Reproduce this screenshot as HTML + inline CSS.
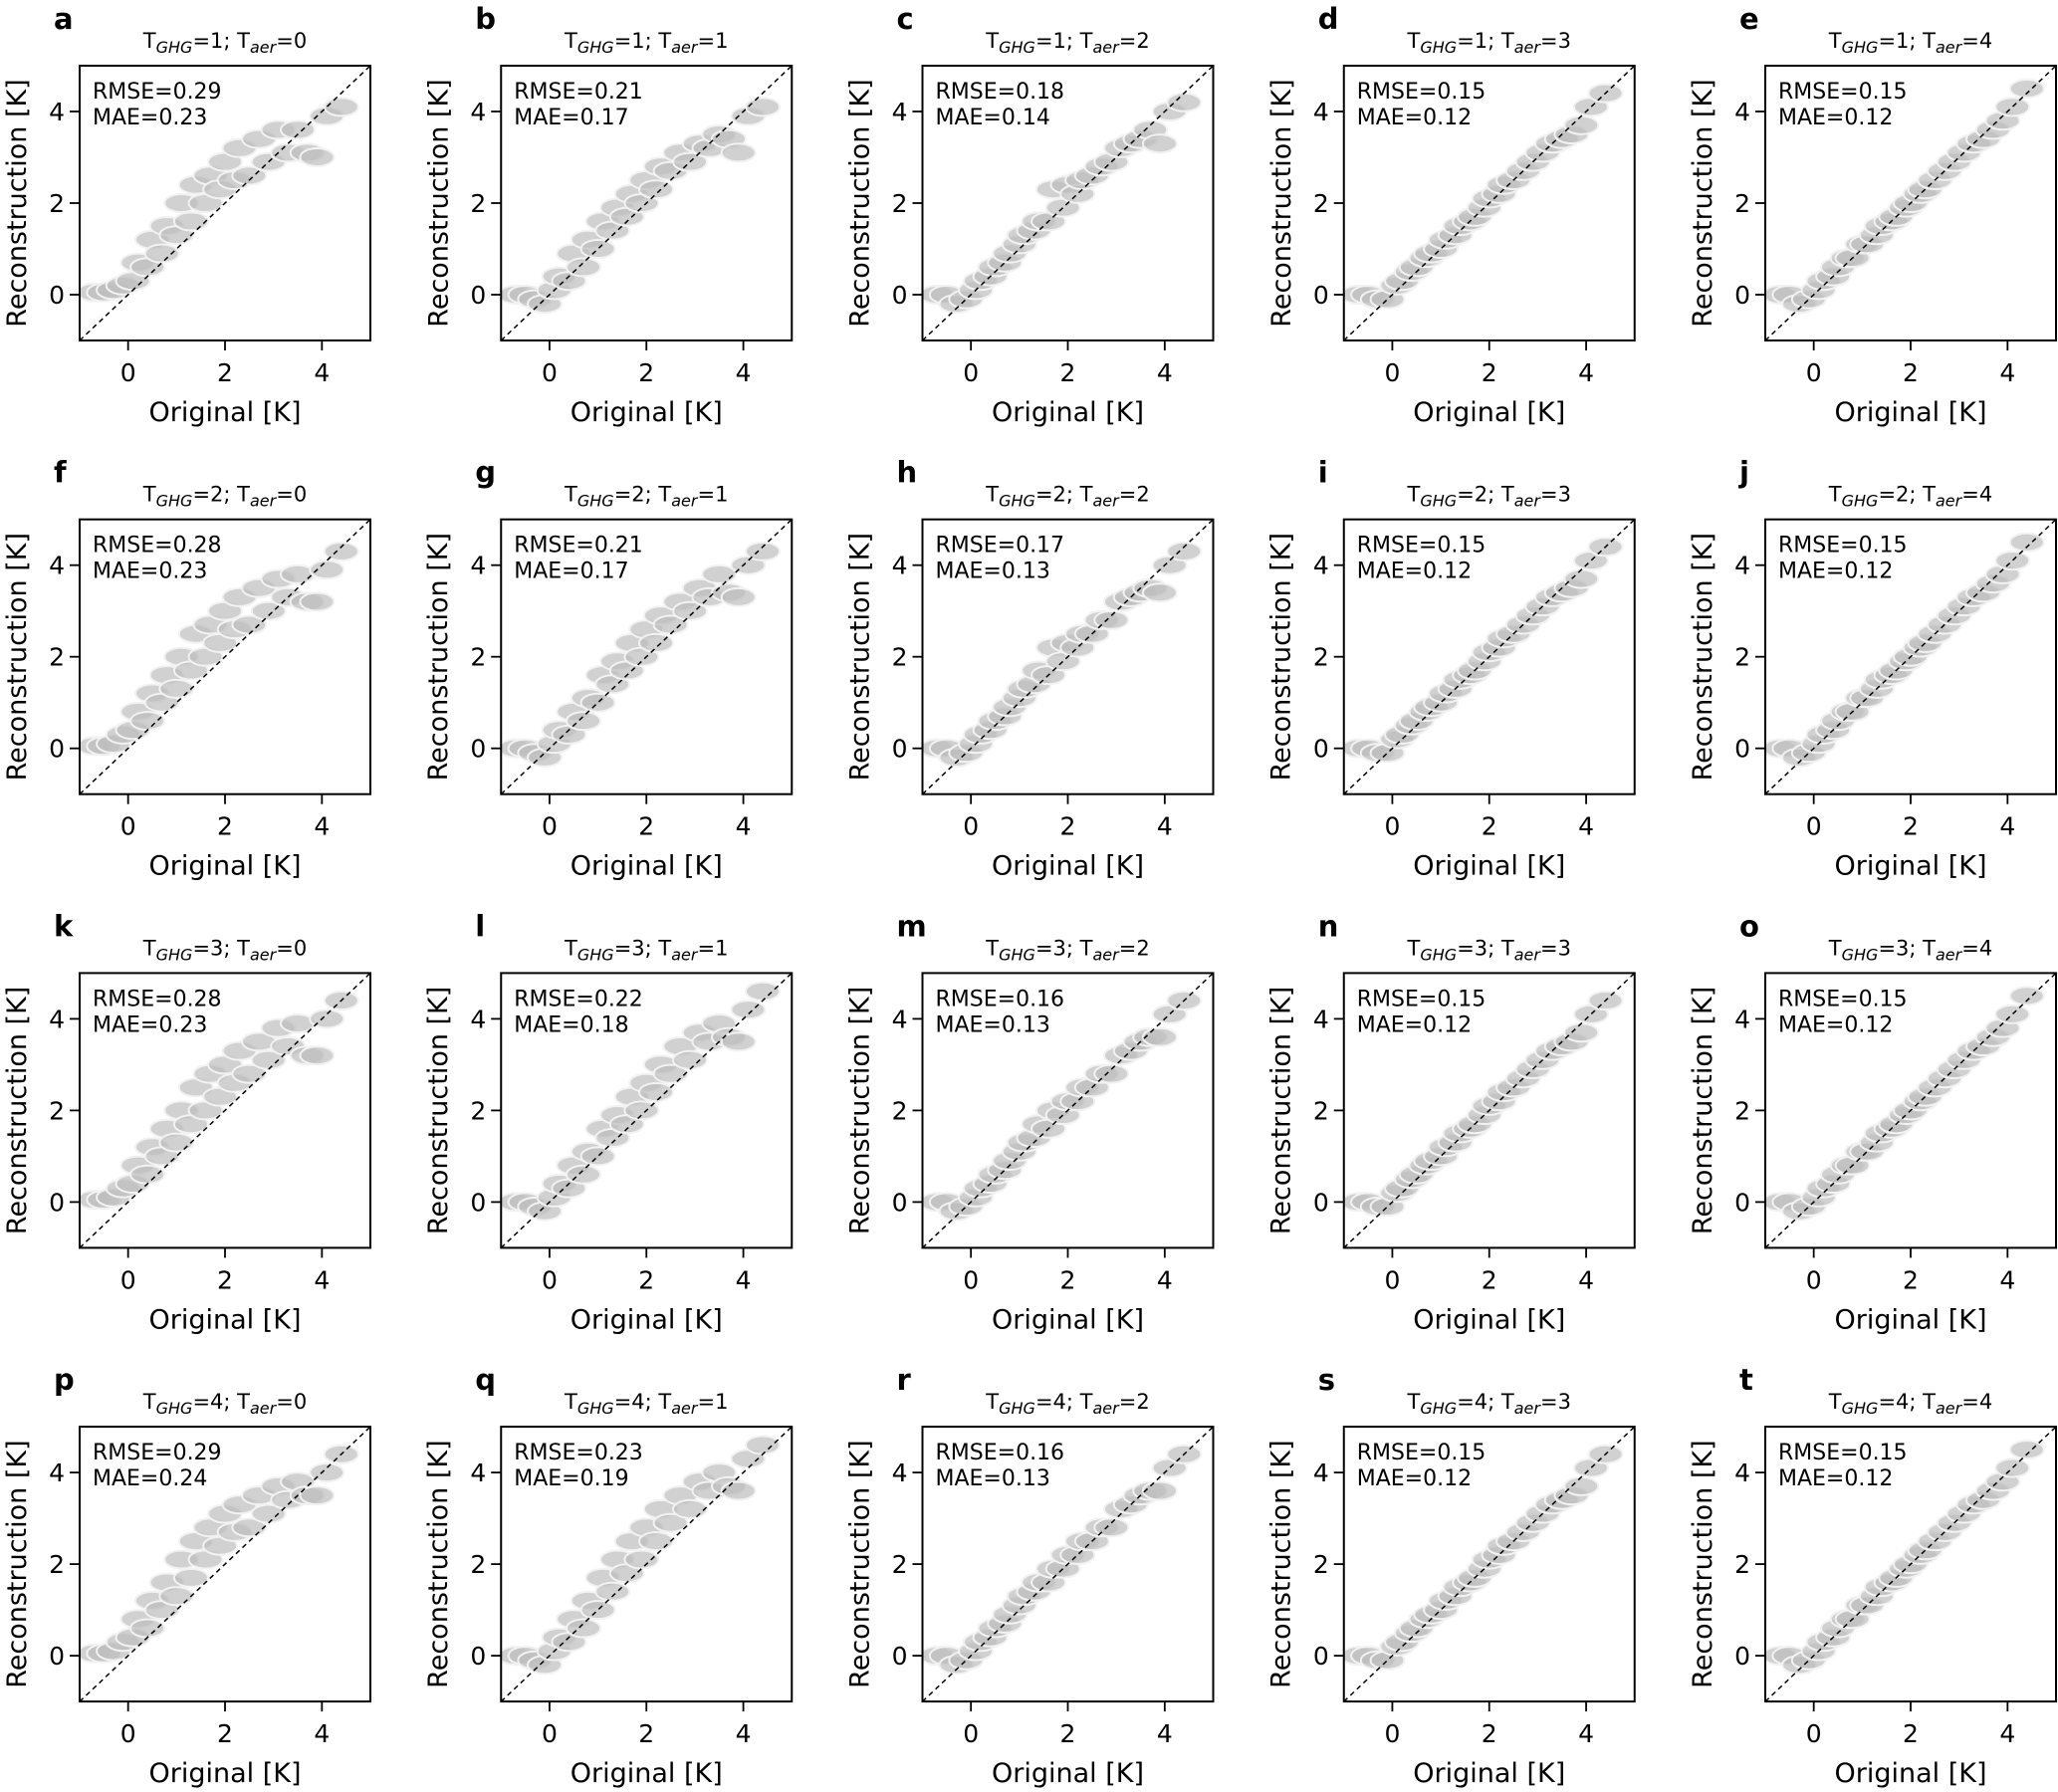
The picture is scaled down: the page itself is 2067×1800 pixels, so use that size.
<!DOCTYPE html>
<html><head><meta charset="utf-8"><style>
html,body{margin:0;padding:0;background:#fff;}
svg{display:block;font-family:"DejaVu Sans","Liberation Sans",sans-serif;}
</style></head><body>
<svg id="fig" width="2067" height="1800" viewBox="0 0 2067 1800" xmlns="http://www.w3.org/2000/svg"></svg>
<script>
const letters = ["a","b","c","d","e","f","g","h","i","j","k","l","m","n","o","p","q","r","s","t"];
const ghgLevels = [1,2,3,4];
const aerLevels = [0,1,2,3,4];
const rmseValues = ["0.29","0.21","0.18","0.15","0.15","0.28","0.21","0.17","0.15","0.15","0.28","0.22","0.16","0.15","0.15","0.29","0.23","0.16","0.15","0.15"];
const maeValues = ["0.23","0.17","0.14","0.12","0.12","0.23","0.17","0.13","0.12","0.12","0.23","0.18","0.13","0.12","0.12","0.24","0.19","0.13","0.12","0.12"];
const xTicks = [0,2,4];
const yTicks = [0,2,4];
const original = [-0.7,-0.5,-0.3,-0.1,0.1,0.2,0.4,0.5,0.7,0.8,1.0,1.1,1.3,1.4,1.6,1.7,1.9,2.0,2.2,2.3,2.5,2.7,2.9,3.1,3.3,3.5,3.7,3.9,4.1,4.4];
const recon = [
[0.05,0.05,0.1,0.2,0.3,0.7,0.6,1.2,0.9,1.5,1.3,2.0,1.6,2.4,2.0,2.6,2.3,2.9,2.5,3.2,2.6,3.4,2.9,3.6,3.1,3.6,3.1,3.0,3.9,4.1],
[0.0,0.0,-0.1,-0.2,0.1,0.4,0.3,0.9,0.6,1.2,1.0,1.6,1.4,1.9,1.7,2.2,2.0,2.5,2.3,2.8,2.7,3.1,2.9,3.3,3.2,3.5,3.4,3.1,3.9,4.1],
[0.0,0.0,-0.2,-0.1,0.1,0.3,0.4,0.6,0.7,0.9,1.1,1.3,1.4,1.6,1.6,2.3,1.9,2.4,2.2,2.5,2.6,2.8,2.9,3.2,3.3,3.4,3.6,3.3,4.0,4.2],
[0.0,0.0,-0.1,-0.1,0.2,0.3,0.5,0.6,0.8,0.9,1.0,1.2,1.3,1.5,1.6,1.7,1.9,2.1,2.2,2.4,2.5,2.7,2.9,3.1,3.3,3.4,3.5,3.7,4.1,4.4],
[0.0,0.0,-0.2,-0.1,0.1,0.3,0.4,0.6,0.8,0.8,1.1,1.1,1.3,1.5,1.6,1.7,1.9,2.0,2.2,2.3,2.5,2.7,2.9,3.1,3.3,3.4,3.6,3.8,4.1,4.5],
[0.05,0.05,0.1,0.3,0.4,0.8,0.6,1.2,1.0,1.6,1.3,2.0,1.7,2.5,2.0,2.7,2.3,3.0,2.6,3.3,2.7,3.5,3.0,3.7,3.3,3.8,3.2,3.2,3.9,4.3],
[0.0,0.0,-0.1,-0.2,0.1,0.4,0.3,0.8,0.6,1.1,1.0,1.6,1.4,1.9,1.7,2.3,2.0,2.6,2.3,2.9,2.7,3.2,3.0,3.5,3.3,3.8,3.4,3.3,4.0,4.3],
[0.0,0.0,-0.2,-0.1,0.1,0.3,0.4,0.6,0.7,0.9,1.1,1.3,1.4,1.7,1.6,2.2,1.9,2.3,2.2,2.5,2.5,2.8,2.8,3.2,3.3,3.4,3.5,3.4,4.0,4.3],
[0.0,0.0,-0.1,-0.1,0.2,0.3,0.5,0.6,0.8,0.9,1.0,1.2,1.3,1.5,1.6,1.7,1.9,2.1,2.2,2.4,2.5,2.7,2.9,3.1,3.3,3.4,3.5,3.7,4.1,4.4],
[0.0,0.0,-0.2,-0.1,0.1,0.3,0.4,0.6,0.8,0.8,1.1,1.1,1.3,1.5,1.6,1.7,1.9,2.0,2.2,2.3,2.5,2.7,2.9,3.1,3.3,3.4,3.6,3.8,4.1,4.5],
[0.05,0.05,0.1,0.3,0.4,0.8,0.6,1.2,1.0,1.6,1.3,2.0,1.7,2.5,2.0,2.8,2.3,3.0,2.6,3.3,2.8,3.5,3.1,3.8,3.4,3.9,3.2,3.2,4.0,4.4],
[0.0,0.0,-0.1,-0.2,0.1,0.4,0.3,0.8,0.6,1.1,1.0,1.6,1.4,1.9,1.7,2.3,2.0,2.6,2.4,3.0,2.8,3.4,3.1,3.7,3.5,3.9,3.6,3.5,4.2,4.6],
[0.0,0.0,-0.2,-0.1,0.1,0.3,0.4,0.6,0.7,0.9,1.1,1.3,1.4,1.7,1.6,2.0,1.9,2.2,2.2,2.5,2.5,2.8,2.8,3.2,3.3,3.5,3.6,3.6,4.1,4.4],
[0.0,0.0,-0.1,-0.1,0.2,0.3,0.5,0.6,0.8,0.9,1.0,1.2,1.3,1.5,1.6,1.7,1.9,2.1,2.2,2.4,2.5,2.7,2.9,3.1,3.3,3.4,3.5,3.7,4.1,4.4],
[0.0,0.0,-0.2,-0.1,0.1,0.3,0.4,0.6,0.8,0.8,1.1,1.1,1.3,1.5,1.6,1.7,1.9,2.0,2.2,2.3,2.5,2.7,2.9,3.1,3.3,3.4,3.6,3.8,4.1,4.5],
[0.05,0.05,0.1,0.3,0.4,0.8,0.6,1.2,1.0,1.6,1.3,2.1,1.7,2.5,2.1,2.8,2.4,3.1,2.7,3.3,2.8,3.5,3.1,3.7,3.4,3.8,3.5,3.5,4.0,4.4],
[0.0,0.0,-0.1,-0.2,0.1,0.4,0.3,0.8,0.6,1.2,1.0,1.7,1.4,2.1,1.8,2.5,2.1,2.8,2.5,3.2,2.9,3.5,3.2,3.8,3.6,4.0,3.7,3.6,4.3,4.6],
[0.0,0.0,-0.2,-0.1,0.1,0.3,0.4,0.6,0.7,0.9,1.1,1.3,1.4,1.6,1.6,1.9,1.9,2.2,2.2,2.5,2.5,2.8,2.8,3.2,3.3,3.5,3.6,3.6,4.1,4.4],
[0.0,0.0,-0.1,-0.1,0.2,0.3,0.5,0.6,0.8,0.9,1.0,1.2,1.3,1.5,1.6,1.7,1.9,2.1,2.2,2.4,2.5,2.7,2.9,3.1,3.3,3.4,3.5,3.7,4.1,4.4],
[0.0,0.0,-0.2,-0.1,0.1,0.3,0.4,0.6,0.8,0.8,1.1,1.1,1.3,1.5,1.6,1.7,1.9,2.0,2.2,2.3,2.5,2.7,2.9,3.1,3.3,3.4,3.6,3.8,4.1,4.5]
];

const NS = "http://www.w3.org/2000/svg";
const svg = document.getElementById("fig");
const W = 292, H = 276, X0 = 80, Y0 = 66, DX = 423.25, DY = 455.7;
const DMIN = -1, DMAX = 5;
function mk(tag, attrs, parent, text){
  const e = document.createElementNS(NS, tag);
  for (const k in attrs) e.setAttribute(k, attrs[k]);
  if (text !== undefined) e.textContent = text;
  parent.appendChild(e);
  return e;
}
for (let i = 0; i < 20; i++){
  const r = Math.floor(i/5), c = i%5;
  const ox = X0 + c*DX, oy = Y0 + r*DY;
  const sx = v => ox + (v-DMIN)/(DMAX-DMIN)*W;
  const sy = v => oy + H - (v-DMIN)/(DMAX-DMIN)*H;
  const g = mk("g", {}, svg);
  
  
  const lt = mk("text", {x: ox-26, y: oy-37, "font-size": 29, "font-weight": "bold"}, g, letters[i]);
  
  
  const tt = mk("text", {x: ox+W/2, y: oy-18, "font-size": 21, "text-anchor": "middle"}, g);
  
  
  mk("tspan", {}, tt, "T");
  mk("tspan", {"font-style": "italic", "font-size": 16, dy: 5}, tt, "GHG");
  mk("tspan", {dy: -5}, tt, "=" + ghgLevels[r] + "; T");
  mk("tspan", {"font-style": "italic", "font-size": 16, dy: 5}, tt, "aer");
  mk("tspan", {dy: -5}, tt, "=" + aerLevels[c]);
  const cp = mk("clipPath", {id: "cp"+i}, g);
  mk("rect", {x: ox, y: oy, width: W, height: H}, cp);
  const pts = mk("g", {"clip-path": "url(#cp"+i+")"}, g);
  
  
  for (let k = 0; k < original.length; k++){
    const p = mk("ellipse", {cx: sx(original[k]), cy: sy(recon[i][k]), rx: 17, ry: 9, fill: "#bdbdbd", "fill-opacity": 0.7, stroke: "#f2f2f2", "stroke-width": 2}, pts);
    
    
  }
  const dl = mk("line", {x1: sx(DMIN), y1: sy(DMIN), x2: sx(DMAX), y2: sy(DMAX), stroke: "#000", "stroke-width": 1.5, "stroke-dasharray": "5,4"}, g);
  
  
  const box = mk("rect", {x: ox, y: oy, width: W, height: H, fill: "none", stroke: "#000", "stroke-width": 2}, g);
  
  
  xTicks.forEach(t => {
    mk("line", {x1: sx(t), x2: sx(t), y1: oy+H, y2: oy+H+10, stroke: "#000", "stroke-width": 1.8}, g);
    const tl = mk("text", {x: sx(t), y: oy+H+41, "font-size": 25, "text-anchor": "middle"}, g, String(t));
    
    
  });
  yTicks.forEach(t => {
    mk("line", {x1: ox-10, x2: ox, y1: sy(t), y2: sy(t), stroke: "#000", "stroke-width": 1.8}, g);
    const tl = mk("text", {x: ox-15, y: sy(t)+9, "font-size": 25, "text-anchor": "end"}, g, String(t));
    
    
  });
  const xl = mk("text", {x: ox+W/2, y: oy+H+81, "font-size": 27, "text-anchor": "middle"}, g, "Original [K]");
  
  
  const yx = ox-54, yy = oy+H/2;
  const yl = mk("text", {x: yx, y: yy, "font-size": 27, "text-anchor": "middle", transform: "rotate(-90 "+yx+" "+yy+")"}, g, "Reconstruction [K]");
  
  
  const m1 = mk("text", {x: ox+13, y: oy+33, "font-size": 22}, g, "RMSE=" + rmseValues[i]);
  
  
  const m2 = mk("text", {x: ox+13, y: oy+59, "font-size": 22}, g, "MAE=" + maeValues[i]);
  
  
}
</script>
</body></html>
